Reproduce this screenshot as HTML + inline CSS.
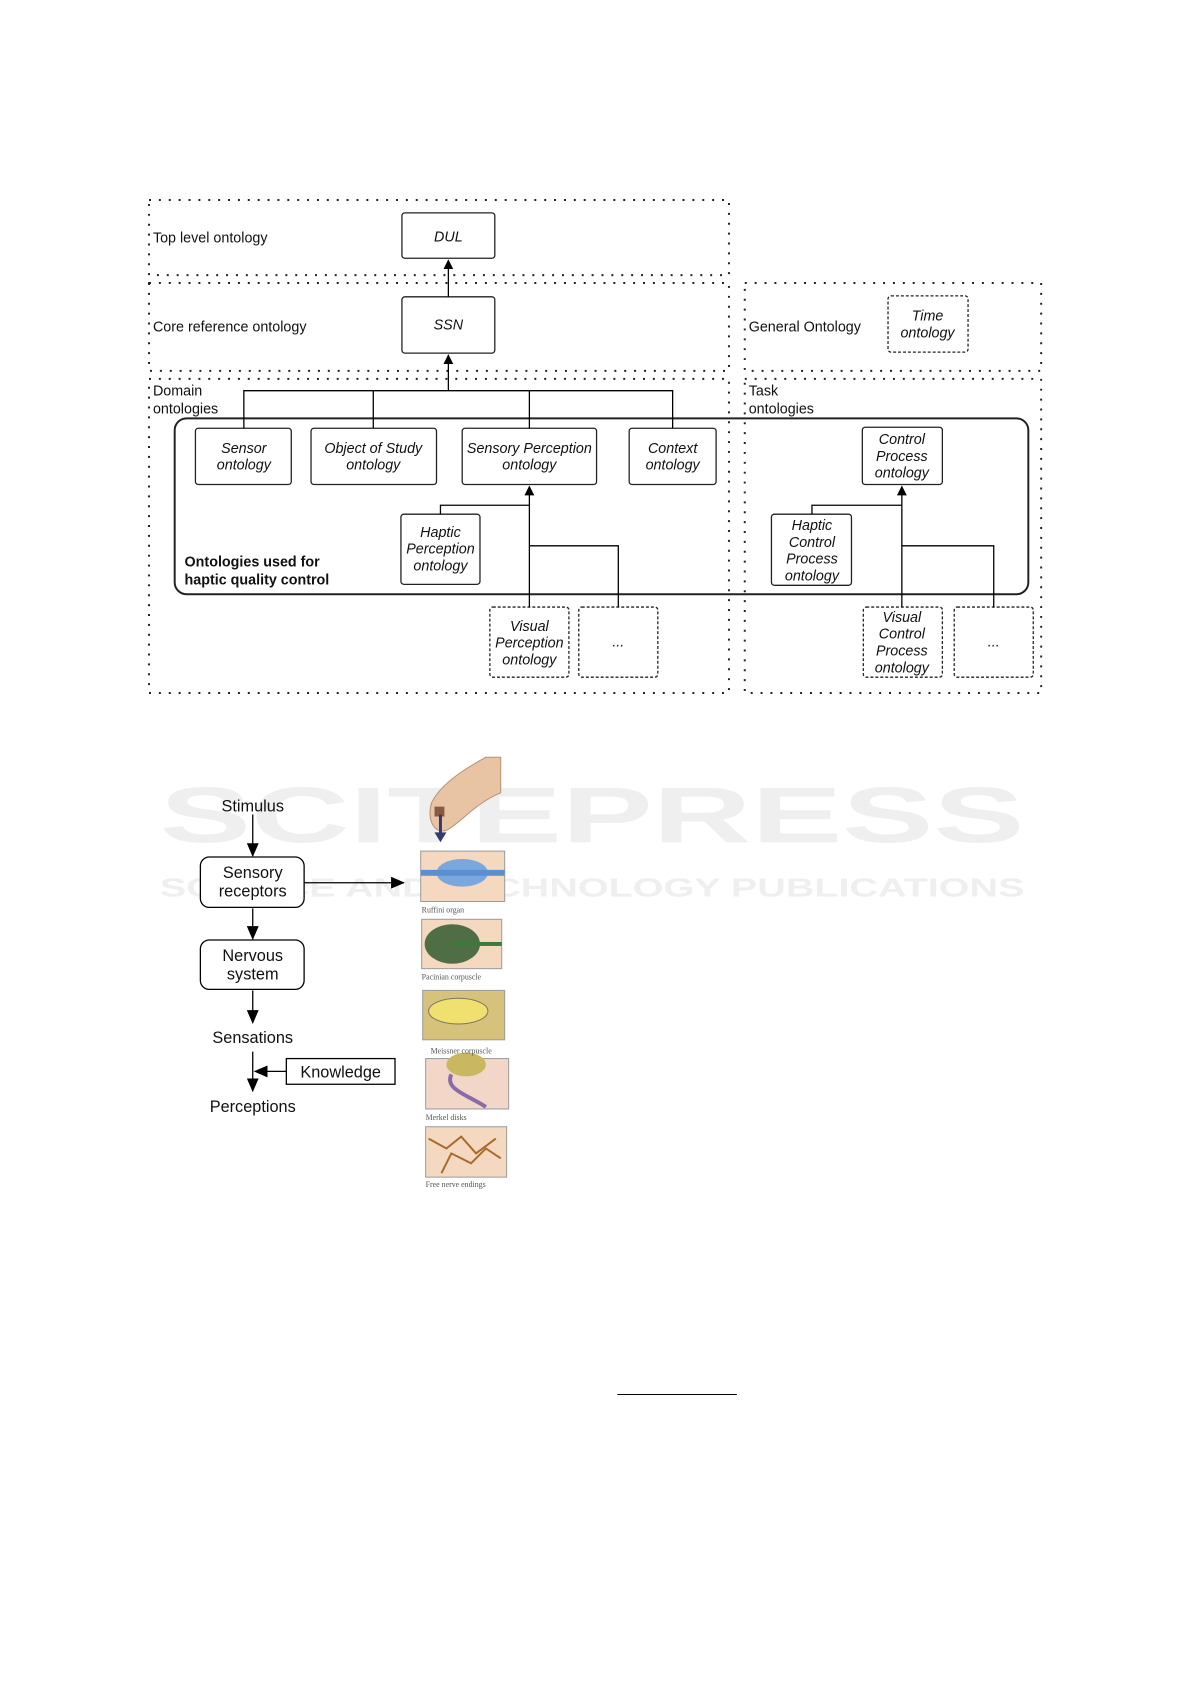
<!DOCTYPE html>
<html><head><meta charset="utf-8"><style>
body{margin:0;background:#fff}
svg{display:block}
text{font-family:"Liberation Sans",sans-serif;fill:#111}
.i{font-style:italic;font-size:14.5px;text-anchor:middle}
.l{font-size:14.5px}
</style></head><body>
<svg width="1191" height="1684" viewBox="0 0 1191 1684" xmlns="http://www.w3.org/2000/svg">
<defs><marker id="a" markerWidth="10" markerHeight="10" refX="9" refY="5" orient="auto" markerUnits="userSpaceOnUse"><path d="M0,0 L10,5 L0,10z" fill="#000"/></marker>
<marker id="b" markerWidth="14" markerHeight="12" refX="13" refY="6" orient="auto" markerUnits="userSpaceOnUse"><path d="M0,0 L14,6 L0,12z" fill="#000"/></marker></defs>
<g transform="translate(149,200) scale(0.988) translate(-149,-200)">
<!-- watermark -->
<g font-family="Liberation Sans" font-weight="bold">
<text x="160" y="850" font-size="80" style="fill:#efefef;font-weight:bold" textLength="875" lengthAdjust="spacingAndGlyphs">SCITEPRESS</text>
<text x="160" y="905" font-size="26" style="fill:#efefef;font-weight:bold" textLength="875" lengthAdjust="spacingAndGlyphs">SCIENCE AND TECHNOLOGY PUBLICATIONS</text>
</g>
<g fill="none" stroke="#222" stroke-width="2" stroke-dasharray="2 8">
<rect x="149" y="200" width="587" height="76"/>
<rect x="149" y="284" width="587" height="89"/>
<rect x="752" y="284" width="300" height="89"/>
<rect x="149" y="381" width="587" height="318"/>
<rect x="752" y="381" width="300" height="318"/>
</g>
<g fill="#fff" stroke="#222" stroke-width="1.3">
<rect x="175" y="421" width="864" height="178" rx="12" stroke-width="2" fill="none"/>
<rect x="405" y="213" width="94" height="46" rx="3"/>
<rect x="405" y="298" width="94" height="57" rx="3"/>
<rect x="196" y="431" width="97" height="57" rx="3"/>
<rect x="313" y="431" width="127" height="57" rx="3"/>
<rect x="466" y="431" width="136" height="57" rx="3"/>
<rect x="635" y="431" width="88" height="57" rx="3"/>
<rect x="404" y="518" width="80" height="71" rx="3"/>
<rect x="871" y="430" width="81" height="58" rx="3"/>
<rect x="779" y="518" width="81" height="72" rx="3"/>
</g>
<g fill="#fff" stroke="#222" stroke-width="1.3" stroke-dasharray="3 2">
<rect x="897" y="297" width="81" height="57" rx="3"/>
<rect x="494" y="612" width="80" height="71" rx="3"/>
<rect x="584" y="612" width="80" height="71" rx="3"/>
<rect x="872" y="612" width="80" height="71" rx="3"/>
<rect x="964" y="612" width="80" height="71" rx="3"/>
</g>
<g stroke="#000" stroke-width="1.3" fill="none">
<line x1="452" y1="298" x2="452" y2="261" marker-end="url(#a)"/>
<line x1="452" y1="393" x2="452" y2="357" marker-end="url(#a)"/>
<polyline points="245,431 245,393 679,393 679,431"/>
<line x1="376" y1="393" x2="376" y2="431"/>
<line x1="534" y1="393" x2="534" y2="431"/>
<line x1="534" y1="612" x2="534" y2="490" marker-end="url(#a)"/>
<polyline points="444,518 444,509 534,509"/>
<polyline points="534,550 624,550 624,612"/>
<line x1="911" y1="612" x2="911" y2="490" marker-end="url(#a)"/>
<polyline points="820,518 820,509 911,509"/>
<polyline points="911,550 1004,550 1004,612"/>
</g>
<text class="l" x="153" y="243">Top level ontology</text>
<text class="l" x="153" y="333">Core reference ontology</text>
<text class="l" x="756" y="333">General Ontology</text>
<text class="l" x="153" y="398">Domain</text><text class="l" x="153" y="416">ontologies</text>
<text class="l" x="756" y="398">Task</text><text class="l" x="756" y="416">ontologies</text>
<text x="185" y="571" font-size="14.5" font-weight="bold">Ontologies used for</text>
<text x="185" y="589" font-size="14.5" font-weight="bold">haptic quality control</text>
<text class="i" x="452" y="242">DUL</text>
<text class="i" x="452" y="331">SSN</text>
<text class="i" x="937" y="322">Time</text><text class="i" x="937" y="339">ontology</text>
<text class="i" x="245" y="456">Sensor</text><text class="i" x="245" y="473">ontology</text>
<text class="i" x="376" y="456">Object of Study</text><text class="i" x="376" y="473">ontology</text>
<text class="i" x="534" y="456">Sensory Perception</text><text class="i" x="534" y="473">ontology</text>
<text class="i" x="679" y="456">Context</text><text class="i" x="679" y="473">ontology</text>
<text class="i" x="444" y="541">Haptic</text><text class="i" x="444" y="558">Perception</text><text class="i" x="444" y="575">ontology</text>
<text class="i" x="911" y="447">Control</text><text class="i" x="911" y="464">Process</text><text class="i" x="911" y="481">ontology</text>
<text class="i" x="820" y="534">Haptic</text><text class="i" x="820" y="551">Control</text><text class="i" x="820" y="568">Process</text><text class="i" x="820" y="585">ontology</text>
<text class="i" x="534" y="636">Visual</text><text class="i" x="534" y="653">Perception</text><text class="i" x="534" y="670">ontology</text>
<text class="i" x="624" y="652">...</text>
<text class="i" x="911" y="627">Visual</text><text class="i" x="911" y="644">Control</text><text class="i" x="911" y="661">Process</text><text class="i" x="911" y="678">ontology</text>
<text class="i" x="1004" y="652">...</text>
<!-- bottom flow -->
<g stroke="#000" stroke-width="1.3" fill="none">
<rect x="201" y="865" width="105" height="51" rx="9" fill="#fff"/>
<rect x="201" y="949" width="105" height="50" rx="9" fill="#fff"/>
<rect x="288" y="1069" width="110" height="26" fill="#fff"/>
<line x1="254" y1="822" x2="254" y2="864" marker-end="url(#b)"/>
<line x1="254" y1="917" x2="254" y2="948" marker-end="url(#b)"/>
<line x1="254" y1="1000" x2="254" y2="1033" marker-end="url(#b)"/>
<line x1="254" y1="1062" x2="254" y2="1102" marker-end="url(#b)"/>
<line x1="288" y1="1082" x2="256" y2="1082" marker-end="url(#b)"/>
<line x1="306" y1="891" x2="407" y2="891" marker-end="url(#b)"/>
</g>
<text x="254" y="819" text-anchor="middle" font-size="16.5">Stimulus</text>
<text x="254" y="886" text-anchor="middle" font-size="16.5">Sensory</text>
<text x="254" y="905" text-anchor="middle" font-size="16.5">receptors</text>
<text x="254" y="970" text-anchor="middle" font-size="16.5">Nervous</text>
<text x="254" y="989" text-anchor="middle" font-size="16.5">system</text>
<text x="254" y="1053" text-anchor="middle" font-size="16.5">Sensations</text>
<text x="343" y="1088" text-anchor="middle" font-size="16.5">Knowledge</text>
<text x="254" y="1123" text-anchor="middle" font-size="16.5">Perceptions</text>
<!-- finger -->
<path d="M505,764 L505,800 C480,810 465,830 450,838 C438,842 430,828 435,810 C445,790 470,775 490,764z" fill="#e8c4a4" stroke="#b89070" stroke-width="1"/>
<rect x="438" y="814" width="10" height="10" fill="#8a5a40"/>
<line x1="444" y1="822" x2="444" y2="843" stroke="#333a70" stroke-width="3"/>
<path d="M438,840 L450,840 L444,850z" fill="#333a70"/>
<!-- receptor images -->
<rect x="424" y="859" width="85" height="51" fill="#f5d8c0" stroke="#999"/>
<ellipse cx="466" cy="881" rx="26" ry="14" fill="#7aa8dc"/>
<rect x="424" y="878" width="85" height="6" fill="#5c8fd0"/>
<rect x="425" y="928" width="81" height="50" fill="#f5d8c0" stroke="#999"/>
<ellipse cx="456" cy="953" rx="28" ry="20" fill="#4f6e46"/>
<rect x="456" y="951" width="50" height="4" fill="#3a7a3a"/>
<rect x="426" y="1000" width="83" height="50" fill="#d6c27a" stroke="#999"/>
<ellipse cx="462" cy="1021" rx="30" ry="13" fill="#f0e070" stroke="#776" />
<rect x="429" y="1069" width="84" height="51" fill="#f2d6c8" stroke="#999"/>
<ellipse cx="470" cy="1075" rx="20" ry="12" fill="#c9b860"/>
<path d="M455,1085 C448,1100 470,1105 490,1118" stroke="#8a6aa8" stroke-width="4" fill="none"/>
<rect x="429" y="1138" width="82" height="51" fill="#f5d8c0" stroke="#999"/>
<path d="M432,1150 L450,1160 L465,1148 L480,1165 L500,1150 M445,1185 L455,1165 L475,1175 L490,1160 L505,1170" stroke="#a86a2a" stroke-width="2" fill="none"/>
<text x="425" y="921" font-size="8" style="font-family:'Liberation Serif';fill:#555">Ruffini organ</text>
<text x="425" y="989" font-size="8" style="font-family:'Liberation Serif';fill:#555">Pacinian corpuscle</text>
<text x="434" y="1064" font-size="8" style="font-family:'Liberation Serif';fill:#555">Meissner corpuscle</text>
<text x="429" y="1131" font-size="8" style="font-family:'Liberation Serif';fill:#555">Merkel disks</text>
<text x="429" y="1199" font-size="8" style="font-family:'Liberation Serif';fill:#555">Free nerve endings</text>
<line x1="623" y1="1409" x2="744" y2="1409" stroke="#000" stroke-width="1"/>
</g>
</svg>
</body></html>
